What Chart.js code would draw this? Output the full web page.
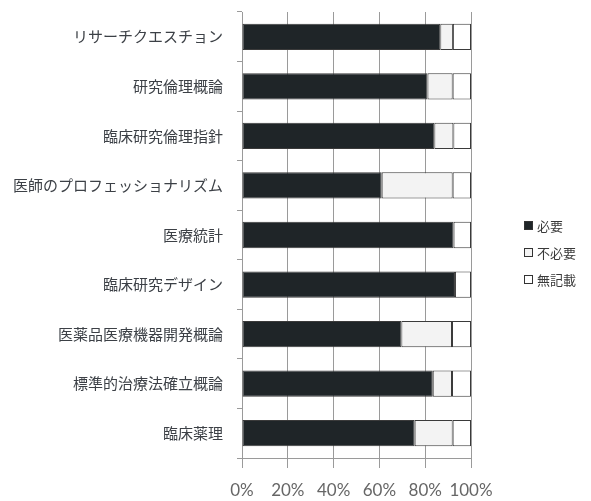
<!DOCTYPE html>
<html><head><meta charset="utf-8">
<script src="https://cdn.jsdelivr.net/npm/chart.js@4/dist/chart.umd.min.js"></script>
<style>
html,body{margin:0;padding:0;background:#fff;}
#wrap{position:relative;width:591px;height:501px;}
#legend{position:absolute;left:524px;top:212px;font-family:"Noto Sans CJK JP";font-size:13px;color:#3a3a3a;}
#legend div{height:27px;display:flex;align-items:center;}
#legend span.box{display:inline-block;width:7px;height:7px;border:1px solid #333;margin-right:4px;}
</style></head>
<body><div id="wrap"><canvas id="c" width="591" height="501"></canvas><div id="legend"></div></div>
<script>
const categories = ["リサーチクエスチョン","研究倫理概論","臨床研究倫理指針","医師のプロフェッショナリズム","医療統計","臨床研究デザイン","医薬品医療機器開発概論","標準的治療法確立概論","臨床薬理"];
const seriesNames = ["必要","不必要","無記載"];
const necessary = [86.6, 81, 84, 61, 92.4, 93, 69.6, 83.3, 75.4];
const unnecessary = [5.5, 11, 8.3, 31, 0, 0, 22.1, 8.4, 16.6];
const noAnswer = [7.9, 8, 7.7, 8, 7.6, 7, 8.3, 8.3, 8];
const xTicks = [0, 20, 40, 60, 80, 100];
const colors = ["#1f2528", "#f3f3f3", "#ffffff"];

const data = {
  labels: categories,
  datasets: [necessary, unnecessary, noAnswer].map((d, i) => ({
    label: seriesNames[i], data: d, backgroundColor: colors[i],
    borderColor: "#3a3a3a", borderWidth: 1, borderSkipped: false,
    categoryPercentage: 0.53, barPercentage: 1
  }))
};

new Chart(document.getElementById("c"), {
  type: "bar", data,
  options: {
    indexAxis: "y", responsive: false, animation: false,
    layout: {padding: {left: 0, top: 12, right: 120, bottom: 0}},
    plugins: {legend: {display: false}, tooltip: {enabled: false}},
    scales: {
      x: {
        stacked: true, min: 0, max: 100,
        afterBuildTicks: s => { s.ticks = xTicks.map(v => ({value: v})); },
        afterFit: s => { s.height = 43; s.paddingLeft = 0; s.paddingRight = 0; },
        ticks: {callback: v => v + "%", color: "#666", font: {family: "Lato", size: 17, lineHeight: 1}, padding: 14,
                maxRotation: 0, minRotation: 0, autoSkip: false},
        grid: {color: "#9a9a9a", tickLength: 10, tickColor: "#9a9a9a"},
        border: {color: "#9a9a9a"}
      },
      y: {
        stacked: true,
        afterFit: s => { s.width = 242; s.paddingTop = 0; s.paddingBottom = 0; },
        ticks: {color: "#3c4046", font: {family: "Noto Sans CJK JP", size: 15}, padding: 14},
        grid: {drawOnChartArea: false, tickLength: 5, color: "#9a9a9a", offset: true},
        border: {color: "#9a9a9a"}
      }
    }
  }
});

const lg = document.getElementById("legend");
seriesNames.forEach((n, i) => {
  const d = document.createElement("div");
  const b = document.createElement("span");
  b.className = "box"; b.style.background = colors[i];
  d.appendChild(b); d.appendChild(document.createTextNode(n));
  lg.appendChild(d);
});
</script></body></html>
